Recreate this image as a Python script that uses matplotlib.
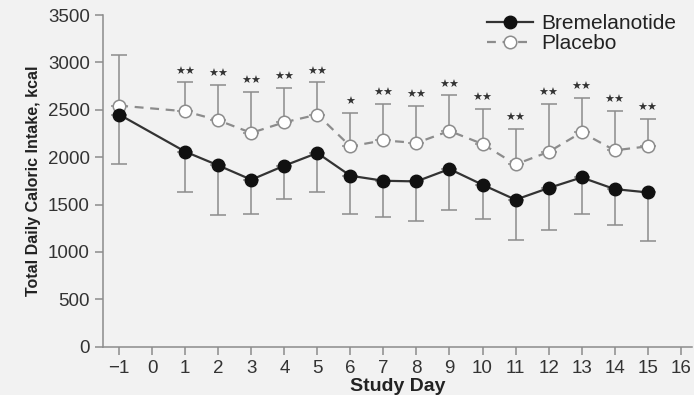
import numpy as np
import matplotlib.pyplot as plt

plt.rcParams['font.family'] = ['Liberation Sans', 'DejaVu Sans']

# study days and mean daily intake (kcal)
days = [-1, 1, 2, 3, 4, 5, 6, 7, 8, 9, 10, 11, 12, 13, 14, 15]
brem = [2450, 2058, 1913, 1762, 1910, 2044, 1804, 1751, 1744, 1875, 1709, 1551, 1674, 1786, 1663, 1628]
brem_sd = [522, 426, 521, 359, 352, 412, 405, 383, 415, 437, 359, 426, 440, 383, 384, 511]
plac = [2544, 2484, 2389, 2256, 2368, 2449, 2114, 2177, 2150, 2277, 2139, 1924, 2055, 2262, 2072, 2114]
plac_sd = [539, 306, 377, 433, 363, 341, 353, 385, 394, 376, 370, 374, 507, 364, 419, 293]
signif = ['', '★★', '★★', '★★', '★★', '★★', '★', '★★', '★★', '★★', '★★', '★★', '★★', '★★', '★★', '★★']

bg = '#f2f2f2'
fig = plt.figure(figsize=(6.94, 3.95), dpi=100, facecolor=bg)
ax = fig.add_axes([0.1484, 0.1223, 0.8486, 0.8397], facecolor=bg)

# one-sided error bars: placebo upward, bremelanotide downward
ax.errorbar(days, plac, yerr=[np.zeros(len(plac)), plac_sd], fmt='none',
            ecolor='#8c8c8c', elinewidth=1.1, capsize=5.5, capthick=1.1, zorder=1)
ax.errorbar(days, brem, yerr=[brem_sd, np.zeros(len(brem))], fmt='none',
            ecolor='#8c8c8c', elinewidth=1.1, capsize=5.5, capthick=1.1, zorder=1)

ax.plot(days, plac, linestyle=(0, (4, 3)), color='#8c8c8c', lw=1.6,
        marker='o', ms=9, mfc='white', mec='#8c8c8c', mew=1.1, label='Placebo', zorder=2)
ax.plot(days, brem, linestyle='-', color='#333333', lw=1.6,
        marker='o', ms=9, mfc='#111111', mec='#111111', label='Bremelanotide', zorder=3)

for d, p, s, txt in zip(days, plac, plac_sd, signif):
    if txt:
        ax.annotate(txt, (d, p + s), xytext=(0, 4), textcoords='offset points',
                    ha='center', va='bottom', fontsize=8, color='#333333',
                    family=['DejaVu Sans'])

ax.set_xlim(-1.49, 16.34)
ax.set_ylim(0, 3500)
ax.set_xticks(range(-1, 17))
ax.set_xticklabels(['\u22121'] + [str(i) for i in range(0, 17)])
ax.set_yticks(range(0, 3501, 500))

for side in ['top', 'right']:
    ax.spines[side].set_visible(False)
for side in ['left', 'bottom']:
    ax.spines[side].set_color('#8c8c8c')
    ax.spines[side].set_linewidth(1.1)
ax.tick_params(colors='#8c8c8c', labelcolor='#333333', labelsize=13.5,
               length=6, width=1.1)

ax.set_xlabel('Study Day', fontsize=14, fontweight='bold', color='#222222', labelpad=1)
ax.set_ylabel('Total Daily Caloric Intake, kcal', fontsize=11.5, fontweight='bold',
              color='#222222', labelpad=5)

handles, labels = ax.get_legend_handles_labels()
ax.legend(handles[::-1], labels[::-1], loc='upper right', bbox_to_anchor=(1.005, 1.06),
          frameon=False, fontsize=15, handlelength=2.2, handletextpad=0.4,
          labelspacing=0.05, labelcolor='#222222')

plt.savefig('out.png', dpi=100, facecolor=bg)
